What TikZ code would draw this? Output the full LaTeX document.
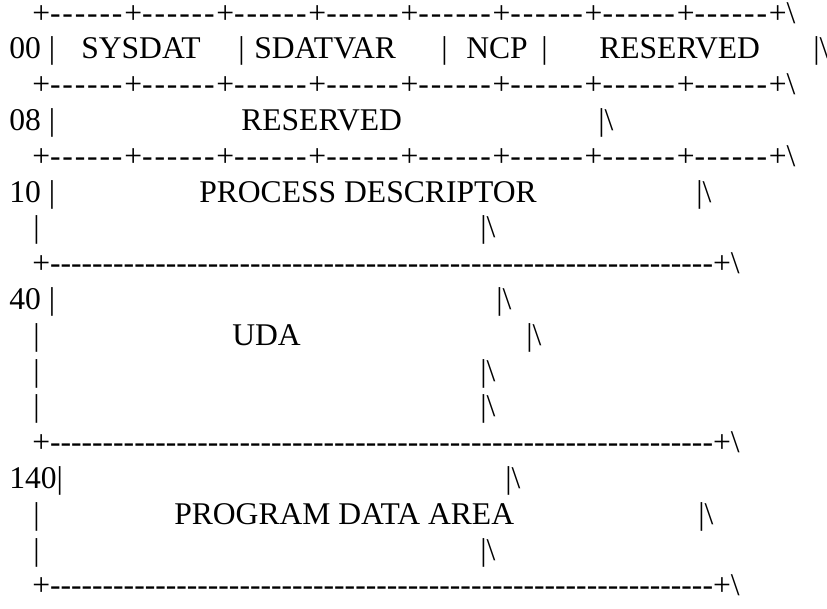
\documentclass[tikz,border=0pt]{standalone}
\usepackage{fontspec}
\setmainfont{Liberation Serif}

% one hyphen, kept apart from the next one
\newcommand{\hy}{-\kern0pt}
% the short cells are set a little looser
\newcommand{\hyw}{-\kern1.39pt}
\newcommand{\cell}{\hyw\hyw\hyw\hyw\hyw\hyw+}
\newcommand{\longrule}{+\foreach \k in {1,...,63}{\hy}+\textbackslash}
\newcommand{\edge}{|\textbackslash}

\begin{document}
\begin{tikzpicture}[x=0.75pt,
                    y=-0.75pt,
                    txt/.style={anchor=base west,inner sep=0pt,
                                font=\fontsize{23.7pt}{28pt}\selectfont}]

  \useasboundingbox (0,0) rectangle (827,608);

  % header words
  \node[txt] (top)     at (32,23)    {+\cell\cell\cell\cell\cell\cell\cell\cell\textbackslash};
  \node[txt] (off00)   at (9,58.8)   {00 |};
  \node[txt] (sysdat)  at (81,58.8)  {SYSDAT};
  \node[txt] (bar1)    at (238,58.8) {|};
  \node[txt] (sdatvar) at (254,58.8) {SDATVAR};
  \node[txt] (bar2)    at (441,58.8) {|};
  \node[txt] (ncp)     at (466,58.8) {NCP};
  \node[txt] (bar3)    at (541,58.8) {|};
  \node[txt] (resv1)   at (599,58.8) {RESERVED};
  \node[txt] (end1)    at (813,58.8) {\edge};

  \node[txt] (sep1)    at (32,94.6)  {+\cell\cell\cell\cell\cell\cell\cell\cell\textbackslash};
  \node[txt] (off08)   at (9,130.4)  {08 |};
  \node[txt] (resv2)   at (241,130.4) {RESERVED};
  \node[txt] (end2)    at (598,130.4) {\edge};

  \node[txt] (sep2)    at (32,166.2) {+\cell\cell\cell\cell\cell\cell\cell\cell\textbackslash};
  \node[txt] (off10)   at (9,202)    {10 |};
  \node[txt] (procdesc) at (199,202) {PROCESS DESCRIPTOR};
  \node[txt] (end3)    at (696,202)  {\edge};
  \node[txt] (side1)   at (33,237.8) {|};
  \node[txt] (end4)    at (480,237.8) {\edge};

  % user area
  \node[txt] (sep3)    at (32,273.6) {\longrule};
  \node[txt] (off40)   at (9,309.4)  {40 |};
  \node[txt] (end5)    at (496,309.4) {\edge};
  \node[txt] (side2)   at (33,345.2) {|};
  \node[txt] (uda)     at (232,345.2) {UDA};
  \node[txt] (end6)    at (526,345.2) {\edge};
  \node[txt] (side3)   at (33,381)   {|};
  \node[txt] (end7)    at (480,381)  {\edge};
  \node[txt] (side4)   at (33,416.8) {|};
  \node[txt] (end8)    at (480,416.8) {\edge};

  % program data
  \node[txt] (sep4)    at (32,452.6) {\longrule};
  \node[txt] (off140)  at (9,488.4)  {140|};
  \node[txt] (end9)    at (505,488.4) {\edge};
  \node[txt] (side5)   at (33,524.2) {|};
  \node[txt] (progdata) at (174,524.2) {PROGRAM DATA AREA};
  \node[txt] (end10)   at (698,524.2) {\edge};
  \node[txt] (side6)   at (33,560)   {|};
  \node[txt] (end11)   at (480,560)  {\edge};
  \node[txt] (bottom)  at (32,595.8) {\longrule};
\end{tikzpicture}
\end{document}
